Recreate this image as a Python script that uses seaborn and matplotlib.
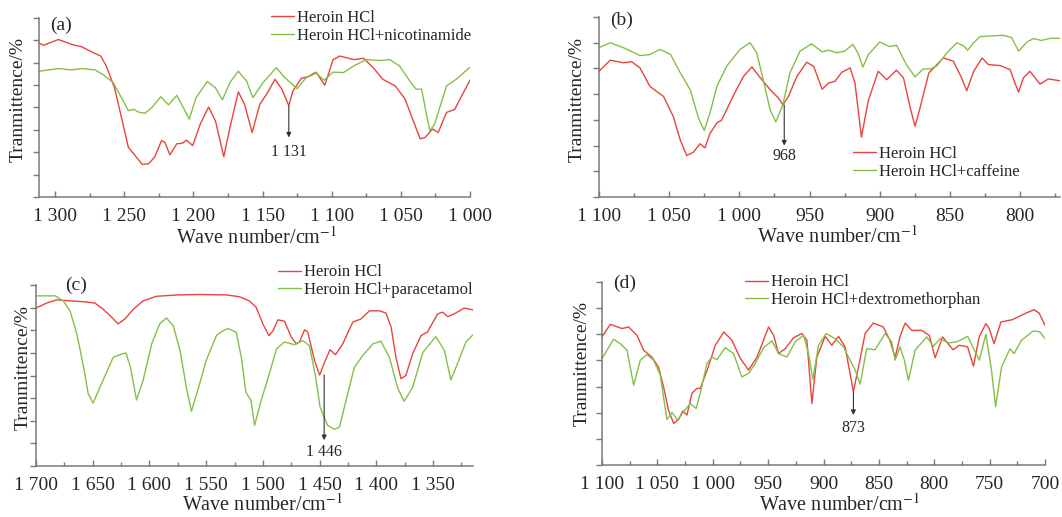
import numpy as np
import pandas as pd
import matplotlib
matplotlib.use("Agg")
import matplotlib.pyplot as plt
import seaborn as sns
from matplotlib.ticker import MultipleLocator, FuncFormatter

# ---------------- data ----------------
a_wn_red = [1311.6, 1308.4, 1297.6, 1288, 1281, 1272, 1267, 1263, 1257, 1252, 1247, 1243, 1237, 1232.5,
            1228, 1223, 1220.5, 1217, 1212, 1208, 1205, 1200.5, 1195, 1189, 1184, 1178, 1173.5, 1167.5,
            1163, 1157.5, 1152, 1147, 1141, 1136, 1131, 1128, 1122, 1116, 1111, 1107, 1105, 1102, 1099,
            1094, 1084, 1077, 1070, 1063, 1054, 1047, 1041, 1036, 1032.5, 1027, 1023, 1017, 1011, 1006, 1000]
a_t_red = [3.44, 3.39, 3.52, 3.41, 3.36, 3.22, 3.15, 2.93, 2.44, 1.78, 1.11, 0.96, 0.73, 0.74,
           0.89, 1.26, 1.22, 0.94, 1.19, 1.20, 1.27, 1.15, 1.63, 2.01, 1.70, 0.90, 1.56, 2.35,
           2.07, 1.44, 2.07, 2.30, 2.63, 2.41, 2.04, 2.37, 2.65, 2.70, 2.78, 2.59, 2.50, 2.78, 3.07,
           3.15, 3.07, 3.10, 2.89, 2.63, 2.48, 2.19, 1.70, 1.30, 1.33, 1.52, 1.44, 1.89, 1.96, 2.26, 2.61]
a_wn_green = [1311.6, 1297.6, 1288, 1281, 1271, 1265, 1258, 1252, 1247, 1243, 1240, 1235, 1230, 1223.6,
              1218, 1212, 1208, 1203, 1198, 1190, 1184, 1179, 1173.5, 1167.5, 1161.5, 1157, 1149.5, 1140,
              1134, 1125, 1119, 1112, 1105.5, 1099, 1091.5, 1084, 1075, 1065, 1058, 1051, 1043.5, 1039,
              1035, 1032, 1029, 1025.6, 1017, 1010, 1000]
a_t_green = [2.81, 2.87, 2.84, 2.87, 2.84, 2.73, 2.56, 2.22, 1.93, 1.96, 1.90, 1.87, 2.00, 2.24,
             2.06, 2.27, 2.04, 1.74, 2.22, 2.58, 2.44, 2.17, 2.56, 2.81, 2.59, 2.22, 2.56, 2.89,
             2.67, 2.42, 2.65, 2.79, 2.61, 2.79, 2.78, 2.93, 3.07, 3.05, 3.07, 2.93, 2.59, 2.41,
             2.41, 1.93, 1.48, 1.63, 2.48, 2.63, 2.90]

b_wn_red = [1100, 1092, 1082.7, 1076.7, 1070.8, 1063.7, 1054, 1047, 1042, 1037.5, 1032.8, 1028, 1024.5,
            1021, 1016, 1012.6, 1004, 997, 991, 985, 978, 972, 969, 965, 959, 952, 947, 941, 936.5,
            931.8, 927, 921, 917.6, 913, 908, 901, 895, 888, 883, 878.4, 874.8, 871, 865, 854.6,
            847.5, 841.6, 838, 833, 827, 822.6, 814, 807, 803.6, 801, 797.6, 793, 785.7, 779.8, 771.5]
b_t_red = [4.89, 5.32, 5.22, 5.26, 5.02, 4.30, 3.91, 3.12, 2.20, 1.61, 1.74, 2.07, 1.91,
           2.46, 2.88, 2.99, 3.97, 4.69, 5.06, 4.63, 4.17, 3.84, 3.58, 3.91, 4.69, 5.24, 5.08, 4.19, 4.43,
           4.50, 4.85, 5.02, 4.43, 2.33, 3.77, 4.89, 4.56, 4.93, 4.63, 3.51, 2.75, 3.51, 4.82, 5.41,
           5.28, 4.63, 4.13, 4.89, 5.41, 5.15, 5.11, 4.95, 4.43, 4.08, 4.63, 4.89, 4.39, 4.59, 4.52]
b_wn_green = [1100, 1092, 1082.7, 1070.8, 1063.7, 1056.5, 1049, 1042, 1035, 1029, 1025, 1021, 1016, 1009,
              999.5, 992.4, 987.6, 983, 978, 974, 969, 964, 956.8, 948.5, 941, 936.5, 930.6, 925, 919,
              915, 912, 908, 900, 893, 888, 881, 874.8, 869, 864, 859.4, 852, 845, 840, 837.3, 833,
              828.5, 821, 812, 806, 801, 795, 790.5, 784.6, 778.6, 771.5]
b_t_green = [5.81, 6.00, 5.81, 5.50, 5.54, 5.74, 5.54, 4.82, 4.17, 3.05, 2.59, 3.25, 4.30, 5.09,
             5.74, 6.00, 5.61, 4.56, 3.38, 2.92, 3.58, 4.82, 5.67, 5.96, 5.64, 5.71, 5.61, 5.67, 5.94,
             5.54, 5.05, 5.54, 6.03, 5.85, 5.90, 5.15, 4.67, 4.98, 4.98, 5.09, 5.61, 6.00, 5.87, 5.71, 6.00,
             6.24, 6.26, 6.29, 6.20, 5.67, 6.03, 6.16, 6.09, 6.17, 6.17]

c_wn_red = [1700, 1690.6, 1682, 1670, 1658, 1648, 1641, 1633.4, 1627.6, 1621.7, 1614, 1605.6, 1594, 1576,
            1555.7, 1532, 1520.5, 1512, 1506, 1500, 1494.7, 1491, 1486.8, 1481, 1475, 1470.7, 1467.7,
            1463.3, 1460.4, 1454.5, 1450, 1445.7, 1440.8, 1436, 1429.6, 1420.8, 1413.5, 1406, 1397.4,
            1391.5, 1387, 1382.7, 1378.3, 1374, 1368, 1360.7, 1355, 1346, 1341.6, 1337, 1330, 1322.6, 1314.8]
c_t_red = [3.49, 3.60, 3.67, 3.65, 3.63, 3.60, 3.47, 3.29, 3.14, 3.25, 3.47, 3.65, 3.75, 3.78,
           3.79, 3.78, 3.74, 3.65, 3.51, 3.14, 2.88, 2.99, 3.23, 3.20, 2.85, 2.70, 2.74,
           3.01, 2.96, 2.33, 2.01, 2.29, 2.57, 2.46, 2.70, 3.18, 3.25, 3.43, 3.43,
           3.38, 3.07, 2.40, 1.93, 2.00, 2.48, 2.88, 2.96, 3.36, 3.40, 3.30, 3.38, 3.49, 3.45]
c_wn_green = [1700, 1683, 1676, 1670, 1664, 1658, 1654, 1649.6, 1643.7, 1637.8, 1632, 1626, 1620.8, 1616.7,
              1611.4, 1605.6, 1598, 1591, 1585, 1579, 1573, 1567.5, 1563, 1557, 1550, 1541, 1537, 1531,
              1523.5, 1519, 1515, 1510.5, 1507.3, 1501.5, 1495.6, 1488, 1481, 1472, 1464.8, 1459, 1453.7,
              1449.6, 1443, 1437, 1432.5, 1426.7, 1419.4, 1412, 1403, 1396, 1388.5, 1381, 1375.5, 1368,
              1359, 1347.5, 1340, 1334.3, 1328.5, 1321, 1314.8]
c_t_green = [3.76, 3.76, 3.65, 3.43, 2.92, 2.18, 1.60, 1.39, 1.74, 2.07, 2.40, 2.46, 2.50, 2.18,
             1.46, 1.89, 2.70, 3.14, 3.27, 3.10, 2.55, 1.74, 1.21, 1.71, 2.33, 2.88, 2.96, 3.04,
             2.96, 2.40, 1.63, 1.45, 0.90, 1.45, 1.93, 2.59, 2.74, 2.68, 2.77, 2.66, 2.00,
             1.30, 0.90, 0.81, 0.86, 1.45, 2.18, 2.44, 2.70, 2.76, 2.40, 1.71, 1.43, 1.74,
             2.51, 2.86, 2.55, 1.90, 2.26, 2.74, 2.90]

d_wn_red = [1100, 1092.5, 1082, 1076, 1068.4, 1062.4, 1055, 1049, 1044.4, 1040, 1035.3, 1030.8, 1027,
            1023.3, 1018.8, 1014.3, 1011.3, 1005, 997.7, 990, 982.7, 975, 967.7, 960, 949.6, 945, 940.6,
            934.6, 927, 919.5, 915, 910.5, 906, 898.5, 892.5, 886.5, 880.5, 876, 873, 868.4, 862.4, 855,
            846, 840, 835.3, 831, 826.3, 820.3, 811.4, 804.5, 799.2, 792.5, 783, 777.4, 769.9, 764.6,
            759.4, 753.4, 750.4, 746, 739.8, 729.3, 717.3, 709.8, 705.3, 700]
d_t_red = [4.90, 5.38, 5.22, 5.28, 4.96, 4.39, 4.13, 3.75, 2.99, 2.10, 1.59, 1.74, 2.07,
           1.91, 2.74, 2.93, 2.93, 3.63, 4.58, 5.09, 4.77, 4.07, 3.63, 4.13, 5.28, 4.96, 4.26,
           4.45, 4.87, 5.03, 4.77, 2.35, 4.13, 4.92, 4.58, 4.92, 4.52, 3.50, 2.80, 3.75, 5.03, 5.43,
           5.28, 4.77, 4.11, 4.90, 5.43, 5.15, 5.15, 4.96, 4.10, 4.90, 4.41, 4.58, 4.52, 3.78,
           4.90, 5.41, 5.22, 4.64, 5.47, 5.56, 5.81, 5.94, 5.81, 5.34]
d_wn_green = [1100, 1095.5, 1089.5, 1083.5, 1077.4, 1071.4, 1065.4, 1059.4, 1053.4, 1047.4, 1041.4, 1036.8,
              1031.7, 1026.3, 1020.3, 1015, 1011.3, 1005.3, 1000.8, 996.2, 988.7, 981.2, 973.7, 967.7,
              961.7, 954, 946.6, 940.6, 933, 925.6, 918, 913.5, 909.6, 904.5, 897.6, 889.5, 882, 876,
              871.4, 866.9, 861, 853.4, 844.4, 838.4, 835.3, 831, 827, 823.3, 817.3, 806.8, 800.8, 794.7,
              787.2, 779.7, 769.8, 763.8, 759.3, 753.4, 748.3, 744.6, 739.2, 731.6, 728, 721.2, 710.5,
              704.5, 700]
d_t_green = [4.07, 4.39, 4.81, 4.64, 4.39, 3.05, 4.01, 4.22, 4.01, 3.44, 1.74, 2.00,
             1.72, 2.04, 2.35, 2.16, 2.74, 3.88, 4.13, 4.03, 4.49, 4.26, 3.37, 3.50,
             3.88, 4.49, 4.75, 4.26, 4.13, 4.71, 4.96, 4.26, 3.28, 4.58, 5.03, 4.83, 4.52, 4.01,
             3.63, 3.09, 4.45, 4.41, 5.03, 4.71, 4.01, 4.52, 4.01, 3.24, 4.39, 4.90, 4.54, 4.83,
             4.67, 4.71, 4.92, 4.39, 4.01, 5.00, 3.63, 2.23, 3.75, 4.45, 4.26, 4.77, 5.13,
             5.09, 4.83]

panel_tags = ["(a)", "(b)", "(c)", "(d)"]
mix_labels = ["Heroin HCl+nicotinamide", "Heroin HCl+caffeine",
              "Heroin HCl+paracetamol", "Heroin HCl+dextromethorphan"]
pure_label = "Heroin HCl"
marked_wn = [1131, 968, 1446, 873]
marked_text = ["1 131", "968", "1 446", "873"]
marked_y = [(2.04, 1.33, 1.00), (3.58, 2.00, 1.61), (2.01, 0.57, 0.31), (2.80, 1.91, 1.40)]

# ---------------- styling ----------------
sns.set_style("white")
plt.rcParams["font.family"] = ["Liberation Serif", "DejaVu Serif"]
plt.rcParams["mathtext.fontset"] = "stix"

RED = "#e8453c"
GREEN = "#84c048"
SPINE = "#7a7a7a"
W, H = 1062, 517

fig = plt.figure(figsize=(W / 100, H / 100), dpi=100)

# axes boxes in pixels: left, right, top, bottom
boxes = [(39, 470, 18, 197), (599, 1060, 17, 197), (36, 473, 285, 466), (602, 1045, 282, 465)]
xlims = [(1311.6, 1000), (1100, 771.5), (1700, 1314.8), (1100, 700)]
ylims = [(0, 4), (0, 7), (0, 4), (0, 7)]
ystep = [0.5, 1, 0.5, 1]
legend_anchor = [(271, 10), (853, 146), (278, 264.5), (745, 274.5)]
tag_pos = [(50, 25), (610, 20), (65, 285), (613, 283)]
ylab_pos = [(18, 100), (577, 100), (23, 367), (582, 363)]
xlab_pos = [(257, 238), (838, 237), (263, 505), (840, 505)]

series = [(a_wn_red, a_t_red, a_wn_green, a_t_green),
          (b_wn_red, b_t_red, b_wn_green, b_t_green),
          (c_wn_red, c_t_red, c_wn_green, c_t_green),
          (d_wn_red, d_t_red, d_wn_green, d_t_green)]


def fmt(v, pos):
    v = int(round(v))
    if v >= 1000:
        return f"{v // 1000} {v % 1000:03d}"
    return str(v)


def fx(px):
    return px / W


def fy(py):
    return 1 - py / H


for i in range(4):
    l, r, t, b = boxes[i]
    ax = fig.add_axes([fx(l), fy(b), (r - l) / W, (b - t) / H])
    wr, tr, wg, tg = series[i]
    df_r = pd.DataFrame({"wn": wr, "T": tr})
    df_g = pd.DataFrame({"wn": wg, "T": tg})
    sns.lineplot(data=df_r, x="wn", y="T", ax=ax, color=RED, lw=1.0, label=pure_label,
                 estimator=None, sort=False)
    sns.lineplot(data=df_g, x="wn", y="T", ax=ax, color=GREEN, lw=1.0, label=mix_labels[i],
                 estimator=None, sort=False)
    ax.set_xlim(*xlims[i])
    ax.set_ylim(*ylims[i])
    ax.set_xlabel("")
    ax.set_ylabel("")
    for s in ["top", "right"]:
        ax.spines[s].set_visible(False)
    for s in ["left", "bottom"]:
        ax.spines[s].set_color(SPINE)
        ax.spines[s].set_linewidth(1.1)
    ax.xaxis.set_major_locator(MultipleLocator(50))
    ax.xaxis.set_minor_locator(MultipleLocator(25))
    ax.xaxis.set_major_formatter(FuncFormatter(fmt))
    ax.yaxis.set_major_locator(MultipleLocator(ystep[i]))
    ax.tick_params(axis="x", which="both", direction="in", color=SPINE, width=1.0,
                   labelsize=14, pad=8, bottom=True)
    ax.tick_params(axis="x", which="major", length=4)
    ax.tick_params(axis="x", which="minor", length=3)
    ax.tick_params(axis="y", which="major", direction="out", length=4, width=1.0, color=SPINE,
                   labelleft=False, left=True)

    # annotation arrow
    y0, y1, yt = marked_y[i]
    ax.annotate("", xy=(marked_wn[i], y1), xytext=(marked_wn[i], y0),
                arrowprops=dict(arrowstyle="-|>", color="#333333", lw=0.8,
                                mutation_scale=7, shrinkA=0, shrinkB=0))
    ax.text(marked_wn[i], yt, marked_text[i], ha="center", va="center", fontsize=11.5)

    leg = ax.legend(loc="upper left", bbox_to_anchor=(fx(legend_anchor[i][0]), fy(legend_anchor[i][1])),
                    bbox_transform=fig.transFigure, frameon=False, fontsize=12,
                    handlelength=1.4, handletextpad=0.15, labelspacing=0.1,
                    borderpad=0, borderaxespad=0)
    for ln in leg.get_lines():
        ln.set_linewidth(1.0)

    fig.text(fx(tag_pos[i][0]), fy(tag_pos[i][1]), panel_tags[i], ha="left", va="center", fontsize=14)
    fig.text(fx(ylab_pos[i][0]), fy(ylab_pos[i][1]), "Tranmittence/%", rotation=90,
             ha="center", va="center", fontsize=14)
    fig.text(fx(xlab_pos[i][0]), fy(xlab_pos[i][1]), "Wave number/cm$^{-1}$",
             ha="center", va="center", fontsize=14.5)

fig.savefig("out.png", dpi=100)
